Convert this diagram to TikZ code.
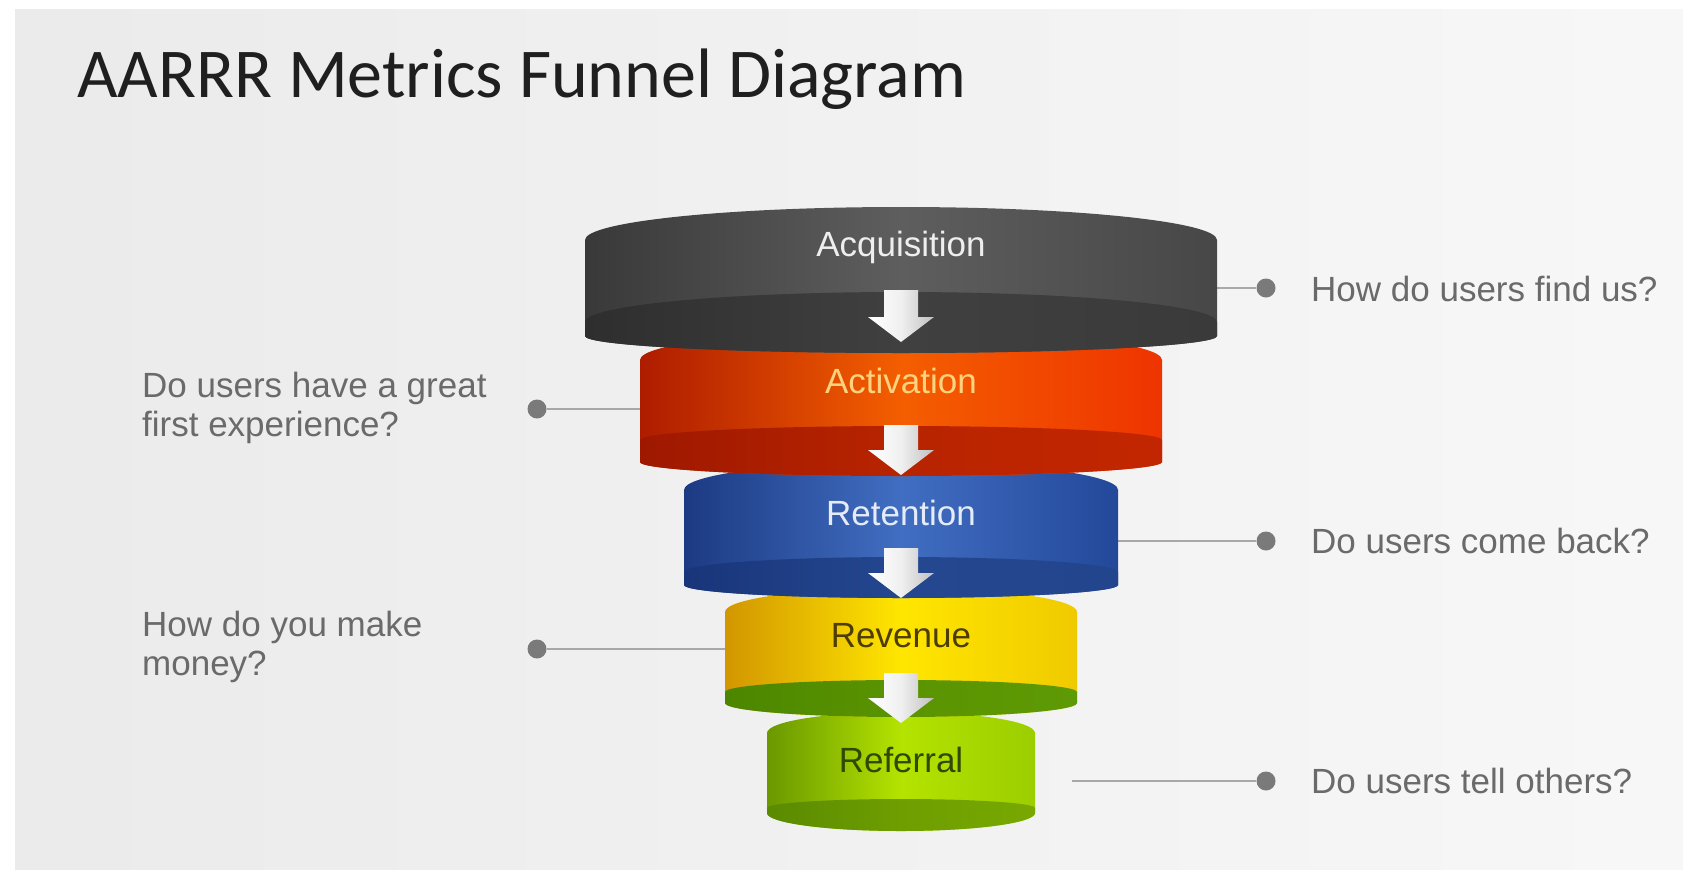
\documentclass[tikz,border=0pt]{standalone}
\usepackage{fontspec}
\setmainfont{Liberation Sans}
\newfontfamily\titlefont{Carlito}
\usetikzlibrary{calc}

\definecolor{qtext}{HTML}{6A6A6A}
\definecolor{qline}{HTML}{A8A8A8}
\definecolor{qdot}{HTML}{7A7A7A}
% Referral
\definecolor{refL}{HTML}{6A9800}\definecolor{refM}{HTML}{B4E300}\definecolor{refR}{HTML}{9CCE00}
\definecolor{refbL}{HTML}{5A8A00}\definecolor{refbM}{HTML}{6E9E00}\definecolor{refbR}{HTML}{78A800}
% Revenue
\definecolor{revL}{HTML}{D29600}\definecolor{revM}{HTML}{FFE600}\definecolor{revR}{HTML}{F0CA00}
\definecolor{revbL}{HTML}{4C8600}\definecolor{revbM}{HTML}{5A9400}\definecolor{revbR}{HTML}{5E9A05}
% Retention
\definecolor{retL}{HTML}{1C3A82}\definecolor{retM}{HTML}{416EC2}\definecolor{retR}{HTML}{23489A}
\definecolor{retbL}{HTML}{19357A}\definecolor{retbM}{HTML}{24478F}\definecolor{retbR}{HTML}{22458E}
% Activation
\definecolor{actL}{HTML}{AE1C00}\definecolor{actM}{HTML}{F45E00}\definecolor{actR}{HTML}{EE3400}
\definecolor{actbL}{HTML}{9E1800}\definecolor{actbM}{HTML}{B82400}\definecolor{actbR}{HTML}{C22600}
% Acquisition
\definecolor{acqL}{HTML}{393939}\definecolor{acqM}{HTML}{5E5E5E}\definecolor{acqR}{HTML}{474747}
\definecolor{acqbL}{HTML}{2E2E2E}\definecolor{acqbM}{HTML}{404040}\definecolor{acqbR}{HTML}{3A3A3A}
% label colours
\definecolor{acqT}{HTML}{EEEEEE}\definecolor{actT}{HTML}{FFD27F}\definecolor{retT}{HTML}{E6ECF7}
\definecolor{revT}{HTML}{4D3D00}\definecolor{refT}{HTML}{2F4A00}

% cylinder-like outline: #1 cx, #2 rx, #3 upper centre y, #4 upper ry, #5 lower centre y, #6 lower ry, #7 options
\newcommand{\cylpath}[7]{%
  \path[#7] ({#1-#2},#3) arc[start angle=180,end angle=0,x radius=#2pt,y radius=#4pt]
    -- ({#1+#2},#5) arc[start angle=0,end angle=-180,x radius=#2pt,y radius=#6pt] -- cycle;}

% down arrow: #1 cx, #2 stem top, #3 head start, #4 tip
\newcommand{\funnelarrow}[4]{%
  \path[arrowfill] ({#1-17},#2) -- ({#1+17},#2) -- ({#1+17},#3) -- ({#1+33},#3)
    -- (#1,#4) -- ({#1-33},#3) -- ({#1-17},#3) -- cycle;}

\tikzset{
  stagelabel/.style={font=\fontsize{35}{38}\selectfont, inner sep=0pt},
  question/.style={font=\fontsize{35}{38.5}\selectfont, text=qtext, align=left, inner sep=0pt, anchor=west},
  dotnode/.style={circle, fill=qdot, minimum size=19pt, inner sep=0pt},
  connector/.style={draw=qline, line width=2pt},
  arrowfill/.style={left color=white, right color=black!25, middle color=black!6},
}

\begin{document}
\begin{tikzpicture}[x=1pt,y=-1pt]
\useasboundingbox (0,0) rectangle (1683,873);
\fill[white] (0,0) rectangle (1683,873);
\shade[left color=black!8, right color=black!3] (15,9) rectangle (1683,869);

% title
\node[anchor=base west, inner sep=0pt, font=\titlefont\fontsize{70}{80}\selectfont, text=black!88] (title) at (77,97) {AARRR Metrics Funnel Diagram};

% anchor points on the funnel edges and dots
\coordinate (acqE) at (1200,288);
\coordinate (actE) at (700,409);
\coordinate (retE) at (1100,541);
\coordinate (revE) at (760,649);
\coordinate (refE) at (1072,781);

\node[dotnode] (d1) at (1266,288) {};
\node[dotnode] (d2) at (537,409) {};
\node[dotnode] (d3) at (1266,541) {};
\node[dotnode] (d4) at (537,649) {};
\node[dotnode] (d5) at (1266,781) {};

\draw[connector] (acqE) -- (d1);
\draw[connector] (actE) -- (d2);
\draw[connector] (retE) -- (d3);
\draw[connector] (revE) -- (d4);
\draw[connector] (refE) -- (d5);

% Referral
\cylpath{901}{134}{733}{21}{813}{18}{left color=refL, right color=refR, middle color=refM}
\cylpath{901}{134}{808}{9}{813}{18}{left color=refbL, right color=refbR, middle color=refbM}
% Revenue
\cylpath{901}{176}{612}{24}{703}{14}{left color=revL, right color=revR, middle color=revM}
\cylpath{901}{176}{692}{12}{703}{14}{left color=revbL, right color=revbR, middle color=revbM}
% Retention
\cylpath{901}{217}{490}{28}{585}{13}{left color=retL, right color=retR, middle color=retM}
\cylpath{901}{217}{572}{15}{585}{13}{left color=retbL, right color=retbR, middle color=retbM}
% Activation
\cylpath{901}{261}{360}{30}{462}{14}{left color=actL, right color=actR, middle color=actM}
\cylpath{901}{261}{440}{14}{462}{14}{left color=actbL, right color=actbR, middle color=actbM}
% Acquisition
\cylpath{901}{316}{240}{33}{336}{17}{left color=acqL, right color=acqR, middle color=acqM}
\cylpath{901}{316}{322}{30}{336}{17}{left color=acqbL, right color=acqbR, middle color=acqbM}

% arrows
\funnelarrow{901}{290}{317}{342}
\funnelarrow{901}{425}{450}{475}
\funnelarrow{901}{548}{573}{598}
\funnelarrow{901}{673}{698}{723}

% labels
\node[stagelabel, text=acqT] (acq) at (901,247) {Acquisition};
\node[stagelabel, text=actT] (act) at (901,381) {Activation};
\node[stagelabel, text=retT] (ret) at (901,513) {Retention};
\node[stagelabel, text=revT] (rev) at (901,636) {Revenue};
\node[stagelabel, text=refT] (ref) at (901,760) {Referral};

% questions
\node[question] (q1) at (1311,289) {How do users find us?};
\node[question] (q2) at (142,408) {Do users have a great\\first experience?};
\node[question] (q3) at (1311,541) {Do users come back?};
\node[question] (q4) at (142,647) {How do you make\\money?};
\node[question] (q5) at (1311,781) {Do users tell others?};
\end{tikzpicture}
\end{document}
